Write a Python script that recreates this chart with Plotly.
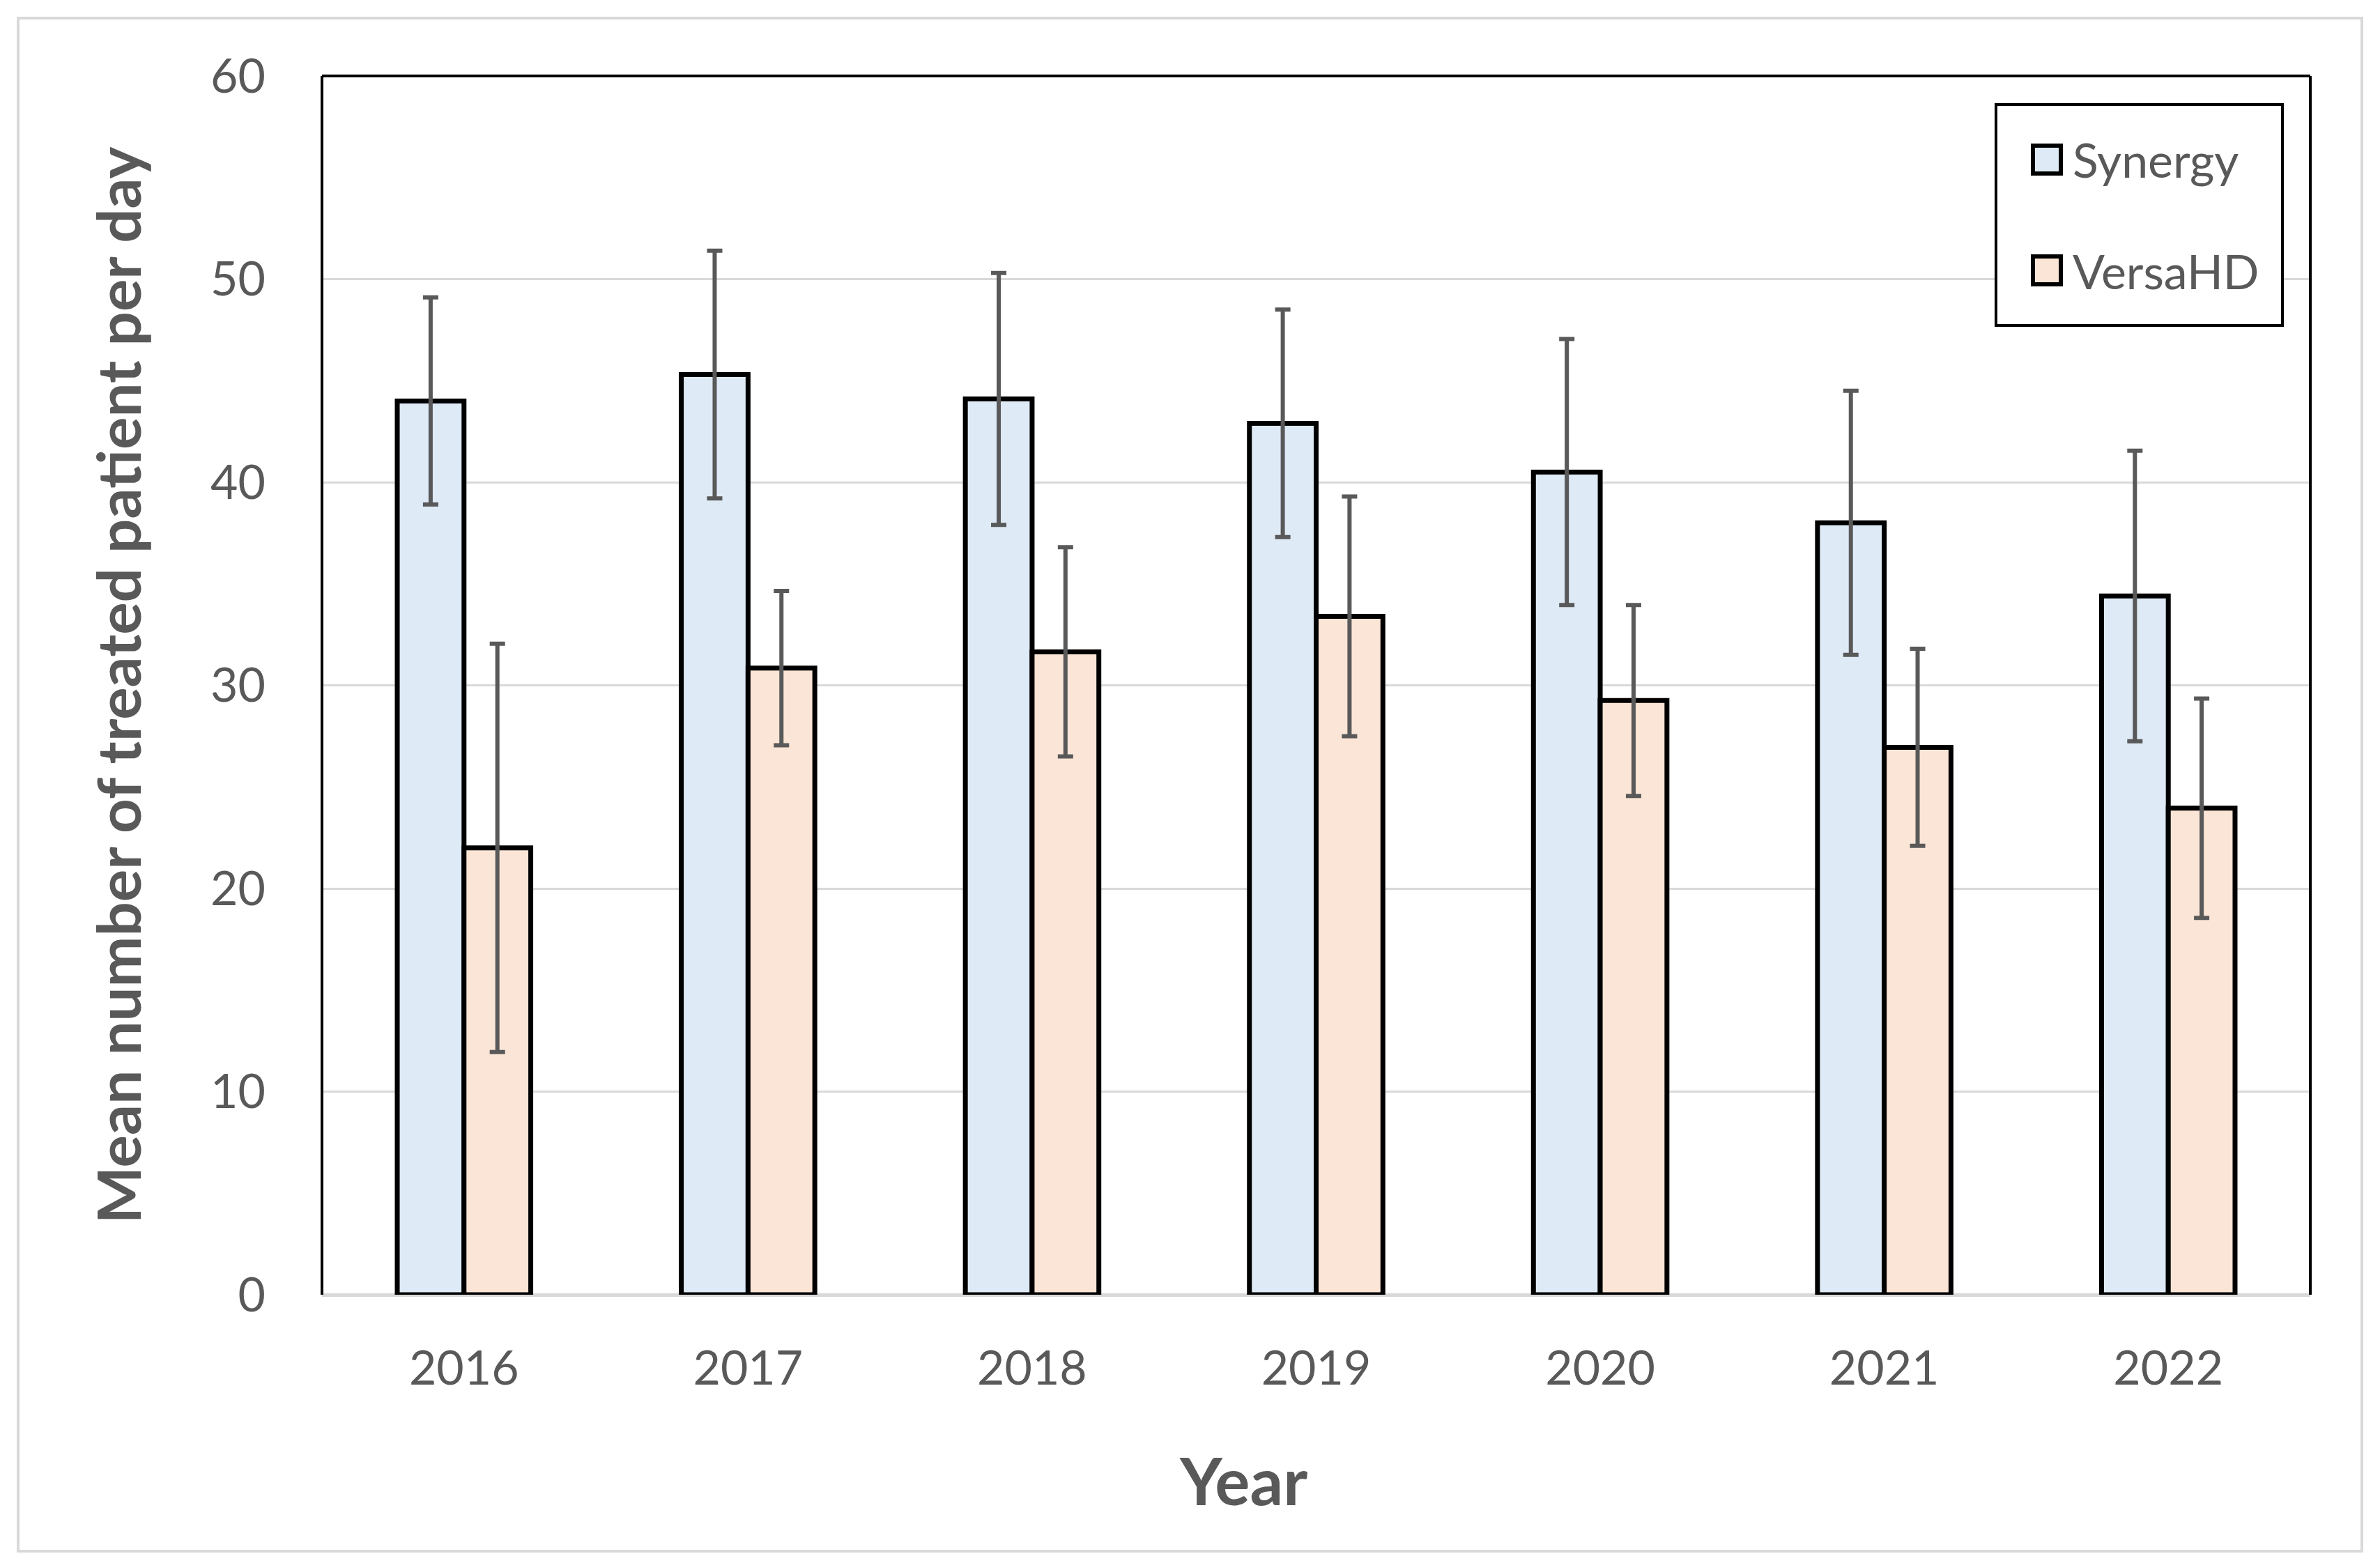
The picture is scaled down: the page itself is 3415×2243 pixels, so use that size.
import plotly.graph_objects as go

years = ["2016", "2017", "2018", "2019", "2020", "2021", "2022"]
synergy_mean = [44.0, 45.3, 44.1, 42.9, 40.5, 38.0, 34.4]
synergy_err = [5.1, 6.1, 6.2, 5.6, 6.55, 6.5, 7.15]
versa_mean = [22.0, 30.85, 31.65, 33.4, 29.25, 26.95, 23.95]
versa_err = [10.05, 3.8, 5.15, 5.9, 4.7, 4.85, 5.4]
y_ticks = [0, 10, 20, 30, 40, 50, 60]
series_names = ["Synergy", "VersaHD"]

TXT = "#595959"
FONT = "Lato"
OFF = 8  # page body margin
W, H = 3415 - OFF, 2243 - OFF
L, R, T, B = 462 - OFF, 100, 109 - OFF, 385
colors = ["#DEEBF7", "#FBE5D6"]

fig = go.Figure()
for name, vals, errs, col in zip(series_names, [synergy_mean, versa_mean],
                                 [synergy_err, versa_err], colors):
    fig.add_trace(go.Bar(
        x=years, y=vals, name=name,
        marker=dict(color=col, line=dict(color="black", width=7)),
        error_y=dict(type="data", array=errs, visible=True,
                     color="#595959", thickness=6, width=11),
        showlegend=False,
    ))

fig.update_layout(
    width=W, height=H,
    margin=dict(l=L, r=R, t=T, b=B, autoexpand=False),
    paper_bgcolor="white", plot_bgcolor="white",
    barmode="group", bargap=0.53, bargroupgap=0,
    font=dict(family=FONT, color=TXT, size=68),
)
fig.update_yaxes(
    range=[0, 60], tickvals=y_ticks, ticktext=[str(v) for v in y_ticks],
    showgrid=True, gridcolor="#D9D9D9", gridwidth=3,
    zeroline=True, zerolinecolor="#D9D9D9", zerolinewidth=5,
    showline=False, ticks="", ticklabelstandoff=80,
    tickfont=dict(family=FONT, size=68, color=TXT),
    title=dict(text="<b>Mean number of treated patient per day</b>",
               font=dict(family=FONT, size=87, color=TXT), standoff=70),
)
fig.update_xaxes(
    showgrid=False, showline=False, ticks="", ticklabelstandoff=60,
    tickfont=dict(family=FONT, size=68, color=TXT),
)


def px_to_paper_x(px):
    # px given in screen coordinates
    return (px - OFF - L) / (W - L - R)


def px_to_paper_y(py):
    return (H - B - (py - OFF)) / (H - B - T)


# x axis title (off-centre, as in the reference)
fig.add_annotation(xref="paper", yref="paper",
                   x=px_to_paper_x(1784), y=px_to_paper_y(2123),
                   text="<b>Year</b>", showarrow=False,
                   xanchor="center", yanchor="middle",
                   font=dict(family=FONT, size=94, color=TXT))

# plot area frame (left, top, right) in black
for x0, y0, x1, y1 in [(0, 0, 0, 1), (0, 1, 1, 1), (1, 0, 1, 1)]:
    fig.add_shape(type="line", xref="paper", yref="paper",
                  x0=x0, y0=y0, x1=x1, y1=y1,
                  line=dict(color="black", width=4))

# outer chart border
fig.add_shape(type="rect", xref="paper", yref="paper",
              x0=px_to_paper_x(26), x1=px_to_paper_x(3389),
              y0=px_to_paper_y(2226), y1=px_to_paper_y(26),
              line=dict(color="#D9D9D9", width=4), layer="below")

# legend box
fig.add_shape(type="rect", xref="paper", yref="paper",
              x0=px_to_paper_x(2864), x1=px_to_paper_x(3275),
              y0=px_to_paper_y(467), y1=px_to_paper_y(150),
              line=dict(color="black", width=4), fillcolor="white")
legend_rows = [229, 388]
for name, col, cy in zip(series_names, colors, legend_rows):
    fig.add_shape(type="rect", xref="paper", yref="paper",
                  x0=px_to_paper_x(2917), x1=px_to_paper_x(2957),
                  y0=px_to_paper_y(cy + 20), y1=px_to_paper_y(cy - 20),
                  line=dict(color="black", width=6), fillcolor=col)
    fig.add_annotation(xref="paper", yref="paper",
                       x=px_to_paper_x(2972), y=px_to_paper_y(cy),
                       text=name, showarrow=False, xanchor="left",
                       yanchor="middle",
                       font=dict(family=FONT, size=68, color=TXT))

fig.write_html("out.html")
